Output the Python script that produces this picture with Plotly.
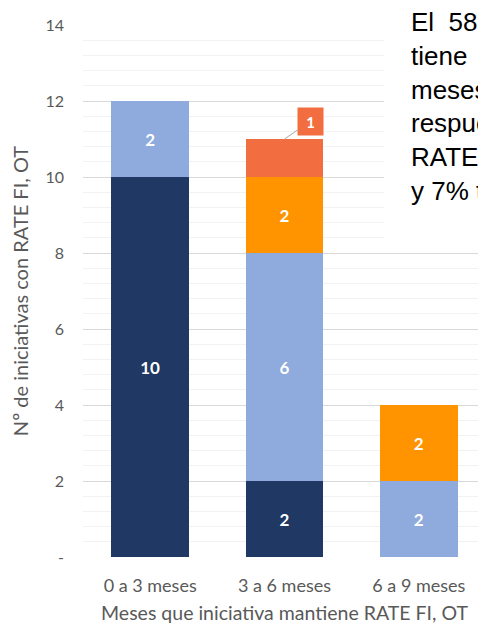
import plotly.graph_objects as go

# ── Data ───────────────────────────────────────────────────
categories   = ["0 a 3 meses", "3 a 6 meses", "6 a 9 meses"]
navy_vals    = [10, 2, 0]
light_vals   = [2, 6, 2]
orange_vals  = [0, 2, 2]
red_vals     = [0, 1, 0]
y_tickvals   = [0, 2, 4, 6, 8, 10, 12, 14]
y_ticktext   = ["-", "2", "4", "6", "8", "10", "12", "14"]
side_text    = ["El&nbsp; 58%", "tiene", "meses,", "respuesta", "RATE,", "y 7% tiene"]

NAVY   = "#1F3864"
LIGHT  = "#8FAADC"
ORANGE = "#FF9400"
RED    = "#F26E40"
FONT   = "Lato"


def labels(vals):
    return [f"<b>{v}</b>" if v else "" for v in vals]


fig = go.Figure()
for vals, color in [(navy_vals, NAVY), (light_vals, LIGHT), (orange_vals, ORANGE)]:
    fig.add_trace(go.Bar(
        x=categories, y=vals, marker_color=color, marker_line_width=0,
        text=labels(vals), textposition="inside", insidetextanchor="middle",
        textfont=dict(color="white", size=17, family=FONT),
        textangle=0, hoverinfo="skip"
    ))

# red segment, label goes in a callout instead
fig.add_trace(go.Bar(
    x=categories, y=red_vals, marker_color=RED, marker_line_width=0, hoverinfo="skip"
))

# ── Callout for the "1" ──
fig.add_annotation(
    x=1, y=sum(v[1] for v in [navy_vals, light_vals, orange_vals, red_vals]),
    xref="x", yref="y", text="<b>1</b>",
    font=dict(color="white", size=15, family=FONT),
    bgcolor=RED, width=17, height=19, borderpad=4,
    showarrow=True, arrowhead=0, arrowwidth=1, arrowcolor="#A6A6A6",
    ax=26, ay=-18
)

# ── White text box on the right (clipped by the page edge) ──
fig.add_shape(
    type="rect", xref="paper", yref="paper",
    x0=0.747, x1=1.1, y0=0.586, y1=1.1,
    fillcolor="white", line_width=0, layer="above"
)
fig.add_annotation(
    xref="paper", yref="paper", x=0.809, y=1.0376,
    xanchor="left", yanchor="top", align="left", showarrow=False,
    text="<br>".join(side_text),
    font=dict(family="Liberation Sans", size=26, color="black")
)

fig.update_layout(
    width=478, height=616,
    barmode="stack", bargap=0.42, showlegend=False,
    paper_bgcolor="white", plot_bgcolor="white",
    margin=dict(l=75, r=0, t=17, b=67),
    font=dict(family=FONT, color="#595959"),
)
fig.update_xaxes(
    tickfont=dict(size=18, color="#595959"),
    title=dict(text="Meses que iniciativa mantiene RATE FI, OT",
               font=dict(size=19.5, color="#595959"), standoff=14),
    showline=False, ticks="", ticklabelstandoff=16
)
fig.update_yaxes(
    range=[0, 14], tickvals=y_tickvals, ticktext=y_ticktext,
    tickfont=dict(size=16, color="#595959"),
    gridcolor="#D9D9D9", gridwidth=1, zeroline=False,
    minor=dict(dtick=0.4, showgrid=True, gridcolor="#F2F2F2"),
    title=dict(text="Nº de iniciativas con RATE FI, OT",
               font=dict(size=20, color="#595959"), standoff=14),
    ticks="", ticklabelstandoff=18
)

fig.write_html("out.html")
